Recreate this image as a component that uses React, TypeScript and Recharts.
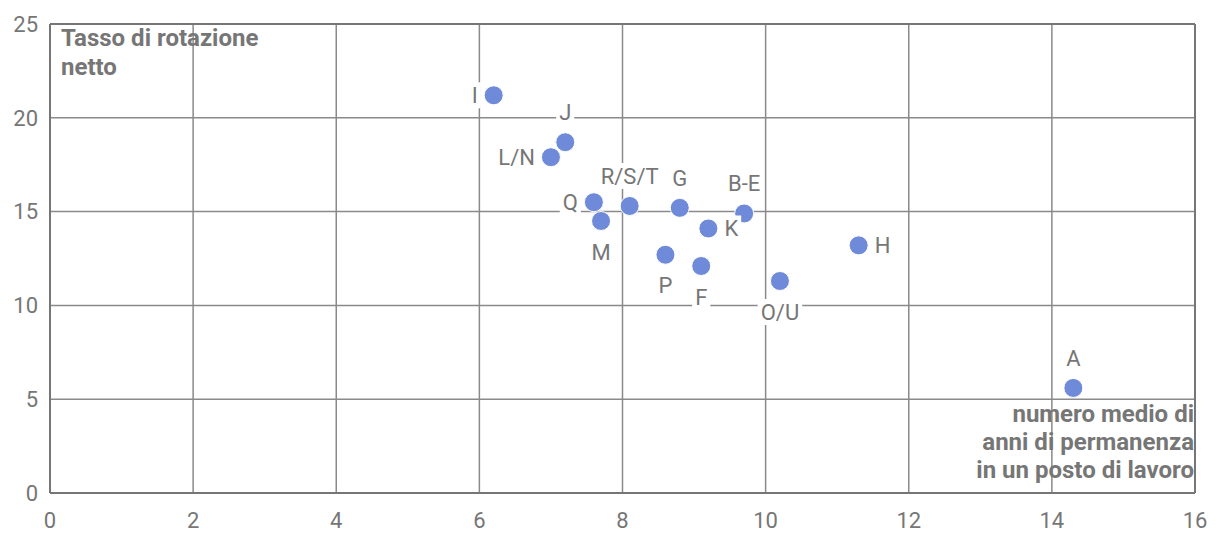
import { ScatterChart, Scatter, XAxis, YAxis, CartesianGrid, ReferenceLine, Customized } from "recharts";

const names = ["I", "J", "L/N", "Q", "M", "R/S/T", "G", "K", "B-E", "P", "F", "O/U", "H", "A"];
const tenure = [6.2, 7.2, 7.0, 7.6, 7.7, 8.1, 8.8, 9.2, 9.7, 8.6, 9.1, 10.2, 11.3, 14.3];
const turnover = [21.2, 18.7, 17.9, 15.5, 14.5, 15.3, 15.2, 14.1, 14.9, 12.7, 12.1, 11.3, 13.2, 5.6];
const labelSide = ["left", "top", "left", "left", "bottom", "top", "top", "right", "top", "bottom", "bottom", "bottom", "right", "top"];

const xTicks = [0, 2, 4, 6, 8, 10, 12, 14, 16];
const yTicks = [0, 5, 10, 15, 20, 25];

const data = names.map((name, i) => ({ name, x: tenure[i], y: turnover[i], side: labelSide[i] }));

const GRAY = "#767676";
const DOT = "#6f8ad8";
const FONT = "Roboto, sans-serif";

let ctx: CanvasRenderingContext2D | null = null;
function textWidth(s: string) {
  if (!ctx) ctx = document.createElement("canvas").getContext("2d");
  if (!ctx) return s.length * 13;
  ctx.font = "22px Roboto";
  return ctx.measureText(s).width;
}

const Dot = (props: any) => {
  const { cx, cy } = props;
  return <circle cx={cx} cy={cy} r={9.5} fill={DOT} stroke="#fff" strokeWidth={1} />;
};

const PointLabel = (props: any) => {
  const { cx, cy, payload } = props;
  const w = textWidth(payload.name);
  let tx = cx;
  let ty = cy;
  let anchor: "start" | "middle" | "end" = "middle";
  if (payload.side === "left") { tx = cx - 16; anchor = "end"; }
  if (payload.side === "right") { tx = cx + 16; anchor = "start"; }
  if (payload.side === "top") ty = cy - 30;
  if (payload.side === "bottom") ty = cy + 31;
  const left = anchor === "middle" ? tx - w / 2 : anchor === "end" ? tx - w : tx;
  return (
    <g>
      <rect x={left - 3} y={ty - 13} width={w + 6} height={26} fill="#fff" />
      <text x={tx} y={ty} dy="0.35em" textAnchor={anchor} fontFamily={FONT} fontSize={22} fill={GRAY}>
        {payload.name}
      </text>
    </g>
  );
};

// axis titles sit inside the plot, top-left and bottom-right
const Titles = () => (
  <g fontFamily={FONT} fontSize={24} fontWeight="bold" fill={GRAY}>
    <text x={61} y={46}>Tasso di rotazione</text>
    <text x={61} y={75}>netto</text>
    <text x={1194} y={422} textAnchor="end">numero medio di</text>
    <text x={1194} y={450} textAnchor="end">anni di permanenza</text>
    <text x={1194} y={478} textAnchor="end">in un posto di lavoro</text>
  </g>
);

export default function App() {
  return (
    <div style={{ position: "absolute", left: 0, top: 0, background: "#fff" }}>
      <ScatterChart width={1220} height={544} margin={{ top: 24, right: 25, bottom: 11, left: 0 }}>
        <CartesianGrid stroke="#8a8a8a" strokeWidth={1.5} />
        <XAxis
          type="number"
          dataKey="x"
          domain={[0, 16]}
          ticks={xTicks}
          height={40}
          tickLine={false}
          tickMargin={13}
          axisLine={{ stroke: GRAY, strokeWidth: 2 }}
          tick={{ fill: GRAY, fontSize: 22, fontFamily: FONT }}
        />
        <YAxis
          type="number"
          dataKey="y"
          domain={[0, 25]}
          ticks={yTicks}
          width={50}
          tickLine={false}
          tickMargin={6}
          axisLine={{ stroke: GRAY, strokeWidth: 2 }}
          tick={{ fill: GRAY, fontSize: 22, fontFamily: FONT }}
        />
        <ReferenceLine y={25} stroke={GRAY} strokeWidth={2} />
        <ReferenceLine x={16} stroke={GRAY} strokeWidth={2} />
        <Customized component={Titles} />
        <Scatter data={data} shape={Dot} isAnimationActive={false} />
        <Scatter data={data} shape={PointLabel} isAnimationActive={false} />
      </ScatterChart>
    </div>
  );
}
